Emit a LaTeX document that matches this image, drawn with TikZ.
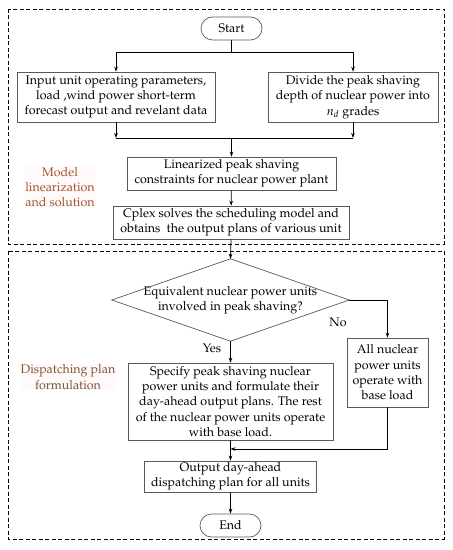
\documentclass[tikz,border=0pt]{standalone}
\usepackage[T1]{fontenc}
\usepackage{mathpazo}
\usetikzlibrary{shapes.misc,arrows.meta}
\definecolor{labelbrown}{RGB}{160,85,45}
\definecolor{labeldark}{RGB}{125,85,55}
\begin{document}
\begin{tikzpicture}[x=1bp, y=-1bp, >={Stealth[length=5bp,width=3.6bp]},
    every node/.style={font=\fontsize{12.5}{15.4}\selectfont},
    box/.style={draw=black!65, line width=0.7pt, align=center, inner sep=0pt},
    term/.style={rounded rectangle, draw=black!65, line width=0.7pt, minimum width=61bp, minimum height=23bp, inner sep=0pt},
    flow/.style={->, line width=0.8pt},
    region/.style={draw, dash pattern=on 4bp off 2.5bp, line width=0.7pt},
    sidelabel/.style={align=center, fill=pink!10, inner sep=1pt}]
    \useasboundingbox (0, 0) rectangle (453, 550);
    \draw[region] (8, 9) rectangle (444, 244);
    \draw[region] (8, 251) rectangle (444, 539);

    \node[term] (start) at (231.5, 28.5) {Start};
    \node[box, minimum width=198bp, minimum height=50bp] (input) at (116, 97)
      {Input unit operating parameters,\\ load ,wind power short-term\\ forecast output and revelant data};
    \node[box, minimum width=170bp, minimum height=50bp] (divide) at (353, 97)
      {Divide the peak shaving\\ depth of nuclear power into\\ $n_d$ grades};
    \node[box, minimum width=209bp, minimum height=33bp] (lin) at (231.5, 173.5)
      {Linearized peak shaving\\ constraints for nuclear power plant};
    \node[box, minimum width=236bp, minimum height=33bp] (cplex) at (231, 222.5)
      {Cplex solves the scheduling model and\\ obtains\ \ the output plans of various unit};
    \node[sidelabel, text=labelbrown] (model) at (60, 187) {Model\\ linearization\\ and solution};

    \node[minimum width=237bp, minimum height=82bp, inner sep=0pt, align=center] (dec) at (230.5, 300)
      {Equivalent nuclear power units\\ involved in peak shaving?};
    \draw[draw=black!65, line width=0.7pt] (dec.north) -- (dec.east) -- (dec.south) -- (dec.west) -- cycle;
    \node[box, minimum width=81bp, minimum height=69bp] (all) at (387.5, 372.5)
      {All nuclear\\ power units\\ operate with\\ base load};
    \node[box, minimum width=205bp, minimum height=77bp] (spec) at (230.5, 401.5)
      {Specify peak shaving nuclear\\ power units and formulate their\\ day-ahead output plans. The rest\\ of the nuclear power units operate\\ with base load.};
    \node[box, minimum width=172bp, minimum height=31bp] (out) at (230.5, 476.5)
      {Output day-ahead\\ dispatching plan for all units};
    \node[term] (end) at (230.5, 525.5) {End};
    \node[sidelabel, text=labeldark] (disp) at (68, 377) {Dispatching plan\\ formulation};
    \node (yes) at (212, 348) {Yes};
    \node (no) at (338, 322) {No};

    \coordinate (split) at (231.5, 52);
    \coordinate (merge) at (231.5, 138);
    \coordinate (join) at (230.5, 449);
    \draw[line width=0.8pt] (start.south) -- (split);
    \draw[flow] (split) -| (input.north);
    \draw[flow] (split) -| (divide.north);
    \draw[flow] (input.south) -- (input.south |- merge);
    \draw[flow] (divide.south) -- (divide.south |- merge);
    \draw[line width=0.8pt] (input.south |- merge) -- (divide.south |- merge);
    \draw[flow] (merge) -- (lin.north);
    \draw[flow] (lin) -- (cplex);
    \draw[flow] (cplex.south) -- (dec.north);
    \draw[flow] (dec.east) -| (all.north);
    \draw[flow] (dec.south) -- (spec.north);
    \draw[flow] (spec.south) -- (out.north);
    \draw[flow] (all.south) |- (join);
    \draw[flow] (out) -- (end);
\end{tikzpicture}
\end{document}
